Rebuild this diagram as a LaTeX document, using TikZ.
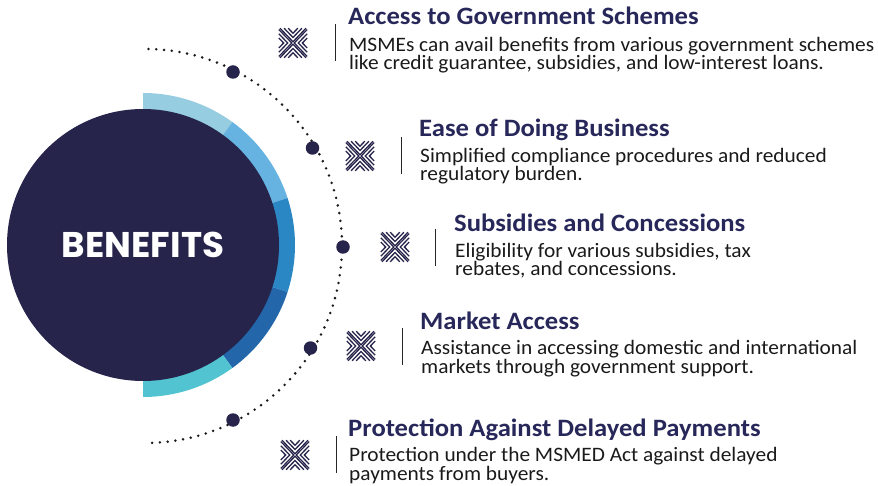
\documentclass[tikz,border=0pt]{standalone}
\usepackage{fontspec}
\setmainfont{Carlito}
\newfontfamily\ttlfont{Carlito}[FakeStretch=1.065]
\newfontfamily\bodyfont{Carlito}[FakeStretch=1.043]
\newfontfamily\benfont{Poppins}
\usetikzlibrary{calc}
\definecolor{navy}{HTML}{26244A}
\definecolor{ttl}{HTML}{27275A}
\definecolor{segA}{HTML}{96CDE1}
\definecolor{segB}{HTML}{66B2E0}
\definecolor{segC}{HTML}{2A87C4}
\definecolor{segD}{HTML}{2366A9}
\definecolor{segE}{HTML}{52C4D1}
\definecolor{txt}{HTML}{1A1A1A}
\tikzset{
  ttlnode/.style={anchor=base west, inner sep=0pt, font=\ttlfont\fontsize{25}{25}\selectfont\bfseries, text=ttl},
  bodynode/.style={anchor=base west, inner sep=0pt, align=left, font=\bodyfont\fontsize{20.5}{16.5}\selectfont, text=txt},
  sepline/.style={draw=black!85, line width=1pt},
  bigdot/.style={circle, fill=navy, inner sep=0pt, minimum size=13.5pt},
  iconline/.style={draw=navy, line width=1.3pt, line join=miter},
  dotarc/.style={draw=black!90, line width=2.8pt, line cap=round, dash pattern=on 0pt off 7.8pt},
  xicon/.pic={
    \begin{scope}[yscale=1.04]
    \foreach \v in {1.2,5.3,9.4}{
      \draw[iconline] ({-(14.2-\v)},14.2) -- (0,\v) -- ({14.2-\v},14.2);
      \draw[iconline] ({-(14.2-\v)},-14.2) -- (0,-\v) -- ({14.2-\v},-14.2);
      \draw[iconline] (-14.2,{14.2-\v}) -- (-\v,0) -- (-14.2,{-(14.2-\v)});
      \draw[iconline] (14.2,{14.2-\v}) -- (\v,0) -- (14.2,{-(14.2-\v)});
    }
    \end{scope}
  }
}
\begin{document}
\begin{tikzpicture}[x=1pt,y=1pt]
\useasboundingbox (0,0) rectangle (878,-486);
\coordinate (C) at (143,-245);
\coordinate (A) at (145,-246);
% ring segments
\foreach \k/\c in {0/segA,1/segB,2/segC,3/segD,4/segE}{
  \fill[\c] (C) -- ($(C)+({90-36*\k}:152)$) arc[start angle={90-36*\k}, end angle={54-36*\k}, radius=152] -- cycle;
}
\node[circle, fill=navy, inner sep=0pt, minimum size=272pt] (core) at (C) {};
\node[text=white, font=\benfont\fontsize{35.7}{35.7}\selectfont\bfseries] (ben) at (143,-245) {BENEFITS};
% dotted arc
\draw[dotarc] ($(A)+(89:197)$) arc[start angle=89, end angle=-89, radius=197];
\node[bigdot] (d1) at (233,-72) {};
\node[bigdot] (d2) at (312.5,-148) {};
\node[bigdot] (d3) at (343,-247) {};
\node[bigdot] (d4) at (310.5,-348) {};
\node[bigdot] (d5) at (233,-420) {};
% items
\pic (i1) at (293,-43) {xicon};
\pic (i2) at (360,-156) {xicon};
\pic (i3) at (395,-247) {xicon};
\pic (i4) at (361,-346) {xicon};
\pic (i5) at (295,-455) {xicon};
\draw[sepline] (335,-24) -- (335,-61);
\draw[sepline] (401,-137) -- (401,-174);
\draw[sepline] (435,-229) -- (435,-266);
\draw[sepline] (402,-328) -- (402,-365);
\draw[sepline] (336,-436) -- (336,-473);
\node[ttlnode] (t1) at (348,-25) {Access to Government Schemes};
\node[bodynode] (b1) at (349,-70) {MSMEs can avail benefits from various government schemes\\like credit guarantee, subsidies, and low-interest loans.};
\node[ttlnode] (t2) at (419,-137) {Ease of Doing Business};
\node[bodynode] (b2) at (420,-181) {Simplified compliance procedures and reduced\\regulatory burden.};
\node[ttlnode] (t3) at (454,-232) {Subsidies and Concessions};
\node[bodynode] (b3) at (455,-276) {Eligibility for various subsidies, tax\\rebates, and concessions.};
\node[ttlnode] (t4) at (420,-329) {Market Access};
\node[bodynode] (b4) at (421,-373) {Assistance in accessing domestic and international\\markets through government support.};
\node[ttlnode] (t5) at (348,-436) {Protection Against Delayed Payments};
\node[bodynode] (b5) at (349,-480) {Protection under the MSMED Act against delayed\\payments from buyers.};
\end{tikzpicture}
\end{document}
